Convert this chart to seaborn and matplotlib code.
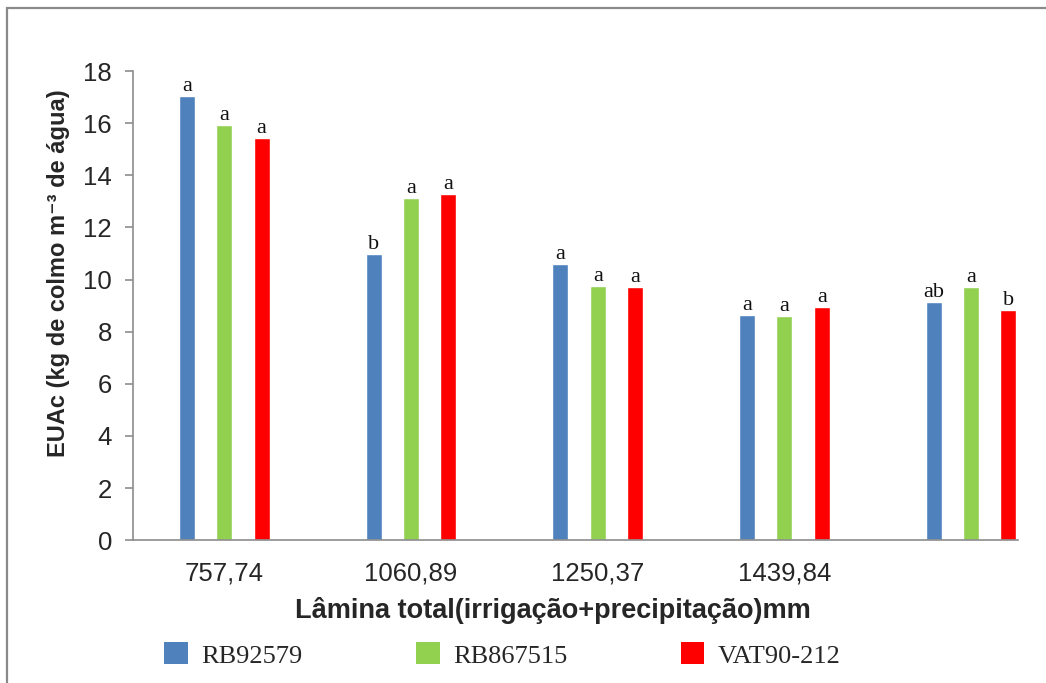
import pandas as pd
import seaborn as sns
import matplotlib.pyplot as plt
from matplotlib.patches import Rectangle, Patch

# Lamina total (mm) - the fifth group has no label in the original
grupos = ["757,74", "1060,89", "1250,37", "1439,84", "sem rótulo"]
rotulos_x = ["757,74", "1060,89", "1250,37", "1439,84", ""]
variedades = ["RB92579", "RB867515", "VAT90-212"]

rb92579 = [17.05, 11.0, 10.58, 8.66, 9.13]
rb867515 = [15.92, 13.14, 9.76, 8.60, 9.71]
vat90212 = [15.45, 13.28, 9.70, 8.95, 8.85]

letras_rb92579 = ["a", "b", "a", "a", "ab"]
letras_rb867515 = ["a", "a", "a", "a", "a"]
letras_vat90212 = ["a", "a", "a", "a", "b"]

cores = ["#4F81BD", "#92D050", "#FF0000"]

df = pd.DataFrame({
    "grupo": grupos * 3,
    "variedade": sum([[v] * len(grupos) for v in variedades], []),
    "EUAc": rb92579 + rb867515 + vat90212,
})
letras = [letras_rb92579, letras_rb867515, letras_vat90212]

sns.set_style("white")
plt.rcParams["font.family"] = ["Liberation Sans", "DejaVu Sans"]

fig = plt.figure(figsize=(10.46, 6.83), dpi=100)
ax = fig.add_axes([0.127, 0.209, 0.846, 0.687])

sns.barplot(data=df, x="grupo", y="EUAc", hue="variedade", order=grupos,
            hue_order=variedades, palette=cores, width=0.6, gap=0.57,
            saturation=1, ax=ax, legend=False)

for cont, lt in zip(ax.containers, letras):
    ax.bar_label(cont, labels=lt, padding=0, fontsize=16,
                 family="Liberation Serif", color="#111111")

ax.set_xlim(-0.49, 4.25)
ax.set_ylim(0, 18)
ax.set_yticks(range(0, 19, 2))
ax.set_xticks(range(len(grupos)))
ax.set_xticklabels(rotulos_x)
ax.tick_params(axis="y", direction="out", length=6, width=1.2,
               color="#8C8C8C", labelsize=18.5, pad=9, left=True)
ax.tick_params(axis="x", length=0, labelsize=18.5, pad=15)

for s in ["top", "right"]:
    ax.spines[s].set_visible(False)
for s in ["left", "bottom"]:
    ax.spines[s].set_color("#8C8C8C")
    ax.spines[s].set_linewidth(1.2)

ax.set_ylabel("EUAc (kg de colmo m⁻³ de água)",
              fontsize=17, fontweight="bold")
ax.yaxis.set_label_coords(-0.071, 0.57)
ax.set_xlabel("Lâmina total(irrigação+precipitação)mm",
              fontsize=19.5, fontweight="bold")
ax.xaxis.set_label_coords(0.475, -0.12)

handles = [Patch(facecolor=c, edgecolor="none") for c in cores]
fig.legend(handles, variedades, loc="center left",
           bbox_to_anchor=(0.147, 0.041), ncol=3, frameon=False,
           prop={"family": "Liberation Serif", "size": 19},
           handlelength=0.9, handleheight=0.9, handletextpad=0.5,
           columnspacing=4.3, borderaxespad=0)

fig.patches.append(Rectangle((0.0067, -0.1), 1.2, 1.088, transform=fig.transFigure,
                             fill=False, edgecolor="#8A8A8A", linewidth=1.6))

fig.savefig("out.png", dpi=100)
